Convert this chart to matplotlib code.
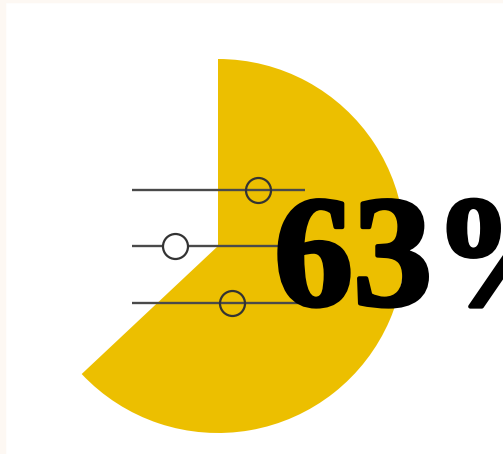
import matplotlib
matplotlib.use('Agg')
import matplotlib.pyplot as plt
import matplotlib.patheffects as pe
from matplotlib.patches import Rectangle
from matplotlib.font_manager import FontProperties

#+++++++++++++++++++++++++++++++++++++++++++++++++++++++++++++++++++++++++++++#

SHARE = [63, 37]
LABEL = '63%'

# slider knob positions (fraction of the track)
KNOBS = [0.73, 0.25, 0.58]
KNOB_FILL = ['none', 'white', 'none']

YELLOW = '#ECBF00'
W, H = 503, 454

#+++++++++++++++++++++++++++++++++++++++++++++++++++++++++++++++++++++++++++++#

fig = plt.figure(figsize=(W / 100, H / 100), dpi=100, facecolor='white')

# thin cream border on top and left
fig.patches.append(Rectangle((0, 0), 5 / W, 1, transform=fig.transFigure,
                             color='#FDF8F3', zorder=0))
fig.patches.append(Rectangle((0, 1 - 2 / H), 1, 2 / H,
                             transform=fig.transFigure, color='#FDF8F3',
                             zorder=0))

ax = fig.add_axes([0, 0, 1, 1])

# pie, centre and radius in pixel units (y up)
cx, cy, r = 218, H - 246, 187
ax.pie(SHARE, colors=[YELLOW, 'none'], startangle=90, counterclock=False,
       center=(cx, cy), radius=r, frame=True,
       wedgeprops=dict(linewidth=0))

# slider icon
x0, x1 = 132, 305
rows = [H - 190, H - 246, H - 303]
for y, k, fc in zip(rows, KNOBS, KNOB_FILL):
  ax.plot([x0, x1], [y, y], color='#4a4a4a', lw=1.7, solid_capstyle='butt',
          zorder=3)
  ax.plot(x0 + k * (x1 - x0), y, 'o', ms=18, mfc=fc, mec='#333333',
          mew=1.6, zorder=4)

fp = FontProperties(fname='/usr/share/fonts/truetype/liberation/LiberationSerif-Bold.ttf',
                    size=114)
ax.text(274, H - 305, LABEL, fontproperties=fp, ha='left',
        va='baseline', color='black', zorder=5,
        path_effects=[pe.withStroke(linewidth=3, foreground='black')])

ax.set_xlim(0, W)
ax.set_ylim(0, H)
ax.set_aspect('auto')
ax.axis('off')

plt.savefig('out.png', dpi=100)
